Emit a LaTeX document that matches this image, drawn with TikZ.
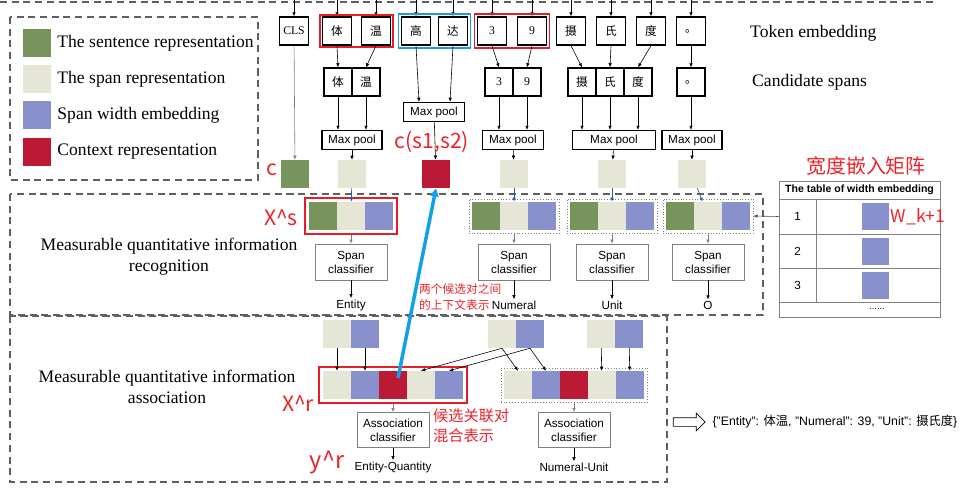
\documentclass[tikz,border=0pt]{standalone}
\usepackage{fontspec}
\setmainfont{Liberation Serif}
\setsansfont{Liberation Sans}
\newfontfamily\cjk{Noto Sans CJK SC}
\usepackage{xcolor}
\definecolor{sentgreen}{RGB}{118, 148, 92}
\definecolor{spanbeige}{RGB}{230, 230, 215}
\definecolor{widthblue}{RGB}{137, 145, 204}
\definecolor{ctxred}{RGB}{187, 25, 54}
\definecolor{boxred}{RGB}{228, 30, 38}
\definecolor{labred}{RGB}{238, 34, 42}
\definecolor{tokblue}{RGB}{30, 155, 224}
\definecolor{ctxline}{RGB}{20, 160, 230}
\definecolor{framegray}{RGB}{95, 95, 95}
\definecolor{arrowblue}{RGB}{40, 90, 160}
\usetikzlibrary{arrows.meta, positioning, shapes.arrows, fit, calc}

\begin{document}
\begin{tikzpicture}[x=0.03cm, y=-0.03cm,
  >={Latex[length=3.5pt, width=3pt]},
  arr/.style={->, line width=0.5pt},
  grayarr/.style={->, line width=0.5pt, draw=gray},
  bluearr/.style={->, line width=0.6pt, draw=arrowblue},
  tokbox/.style={draw, line width=1.1pt, minimum width=0.87cm, minimum height=0.84cm, inner sep=0pt,
        font=\fontsize{10}{12}\selectfont},
  spanbox/.style={tokbox, minimum width=0.84cm},
  poolbox/.style={draw, line width=1.1pt, minimum height=0.57cm, inner sep=1pt,
        font=\sffamily\fontsize{10}{12}\selectfont},
  cell/.style={minimum size=0.84cm, inner sep=0pt},
  clsbox/.style={draw=gray, line width=0.6pt, minimum width=2.16cm, minimum height=1.08cm, align=center,
        font=\sffamily\fontsize{10}{12}\selectfont},
  outlab/.style={font=\sffamily\fontsize{10}{12}\selectfont, inner sep=1pt},
  redlab/.style={text=labred, inner sep=0pt, font=\cjk\fontsize{18}{21}\selectfont},
  dashframe/.style={draw=framegray, line width=1.6pt, dash pattern=on 6pt off 4pt},
  legtext/.style={font=\fontsize{15}{18}\selectfont, inner sep=0pt},
  secttext/.style={align=center, font=\fontsize{15}{18}\selectfont},
  tabcell/.style={draw=gray, line width=0.6pt, inner sep=0pt, font=\sffamily\fontsize{10}{12}\selectfont},
]
\useasboundingbox (0,0) rectangle (963,490);
\coordinate (topline) at (0,0);

\draw[dashframe] (0,2) -- (933,2);
\draw[dashframe] (10,17) rectangle (258,180);
\draw[dashframe] (10,194) rectangle (763,315);
\draw[dashframe] (10,316) rectangle (667,482);

% legend
\foreach \c/\t/\y in {sentgreen/The sentence representation/43, spanbeige/The span representation/79,
    widthblue/Span width embedding/115, ctxred/Context representation/152} {
  \node[cell, fill=\c] (leg-\y) at (37,\y) {};
  \node[legtext, right=0.18cm of leg-\y] (legt-\y) {\t};
}

% tokens and candidate spans
\foreach \n/\t/\x in {cls/CLS/294, ti/{\cjk 体}/337, wen/{\cjk 温}/376, gao/{\cjk 高}/416, da/{\cjk 达}/453,
    t3/3/492, t9/9/532, she/{\cjk 摄}/571, shi/{\cjk 氏}/611, du/{\cjk 度}/651, ju/{\cjk 。}/691} {
  \node[tokbox] (\n) at (\x,31) {\t};
  \draw[arr] (\n.north |- topline) -- (\n.north);
}
\node[fit=(ti)(wen), draw=boxred, line width=1.6pt, inner sep=1.5pt] (redti) {};
\node[fit=(gao)(da), draw=tokblue, line width=1.6pt, inner sep=2pt] (bluegao) {};
\node[fit=(t3)(t9), draw=boxred, line width=1.6pt, inner sep=2pt] (redt3) {};

\foreach \n/\t/\x in {sti/{\cjk 体}/338, swen/{\cjk 温}/366, s3/3/499, s9/9/527,
    sshe/{\cjk 摄}/582, sshi/{\cjk 氏}/610, sdu/{\cjk 度}/638, sju/{\cjk 。}/691}
  \node[spanbox] (\n) at (\x,82) {\t};
\foreach \a/\b in {ti/sti, wen/swen, t3/s3, t9/s9, she/sshe, shi/sshi, du/sdu, ju/sju}
  \draw[arr] (\a.south) -- (\b.north);

\node[poolbox, minimum width=1.8cm] (mp1) at (352,140) {Max pool};
\node[poolbox, minimum width=1.83cm] (mp2) at (434,112) {Max pool};
\node[poolbox, minimum width=1.83cm] (mp3) at (513,140) {Max pool};
\node[poolbox, minimum width=2.49cm] (mp4) at (614,140) {Max pool};
\node[poolbox, minimum width=1.8cm] (mp5) at (692,140) {Max pool};
\foreach \s/\m in {sti/mp1, swen/mp1, s3/mp3, s9/mp3, sshe/mp4, sshi/mp4, sdu/mp4, sju/mp5}
  \draw[arr] (\s.south) -- (\s.south |- \m.north);
\draw[arr] (gao.south) -- ($(mp2.north)+(-15,0)$);
\draw[arr] (da.south) -- ($(mp2.north)+(16,0)$);

% representations
\node[cell, fill=sentgreen] (rc) at (295,174) {};
\node[cell, fill=spanbeige] (r1) at (352,174) {};
\node[cell, fill=ctxred] (rctx) at (436,174) {};
\node[cell, fill=spanbeige] (r2) at (514,174) {};
\node[cell, fill=spanbeige] (r3) at (612,174) {};
\node[cell, fill=spanbeige] (r4) at (692,174) {};
\draw[grayarr] (cls) -- (rc);
\foreach \m/\r in {mp1/r1, mp2/rctx, mp3/r2, mp4/r3, mp5/r4}
  \draw[arr] (\m) -- (\r);

% recognition
\foreach \g/\x/\lab in {e/351/Entity, n/514/Numeral, u/612/Unit, o/708/O} {
  \node[cell, fill=sentgreen] (sent-\g) at (\x-28,216) {};
  \node[cell, fill=spanbeige] (span-\g) at (\x,216) {};
  \node[cell, fill=widthblue] (wid-\g) at (\x+28,216) {};
  \node[clsbox] (cls-\g) at (\x,262) {Span\\classifier};
  \node[outlab] (out-\g) at (\x,305) {\lab};
  \draw[arr] (cls-\g) -- (out-\g);
}
\node[fit=(sent-e)(wid-e), draw=boxred, line width=1.6pt, inner sep=3.5pt] (grp-e) {};
\foreach \g in {n, u, o}
  \node[fit=(sent-\g)(wid-\g), draw=gray, dotted, inner sep=2.5pt] (grp-\g) {};
\foreach \g in {e, n, u, o}
  \draw[grayarr] (grp-\g) -- (cls-\g);
\draw[bluearr] (r1) -- (span-e);
\draw[bluearr] (r2) -- (span-n);
\draw[bluearr] (r3) -- (span-u);
\draw[bluearr] (r4) -- (span-o);

% width table
\node[tabcell, minimum width=4.83cm, minimum height=0.54cm, font=\sffamily\bfseries\fontsize{9}{11}\selectfont]
  (thead) at (859.5,190) {The table of width embedding};
\foreach \k/\y/\h in {1/216.5/1.05cm, 2/251/1.02cm, 3/285/1.02cm} {
  \node[tabcell, minimum width=1.11cm, minimum height=\h] (num\k) at (797.5,\y) {\k};
  \node[tabcell, minimum width=3.72cm, minimum height=\h] (vec\k) at (878,\y) {};
  \node[cell, fill=widthblue, minimum size=0.81cm] (wv\k) at (875.5,\y) {};
}
\node[tabcell, minimum width=4.83cm, minimum height=0.45cm] (trow4) at (859.5,309.5) {};
\node[font=\sffamily\fontsize{8}{10}\selectfont, inner sep=0pt] (tdots) at (877,309) {......};
\draw[arr, draw=gray!60!black] (num1.west) -- (grp-o.east);

% association
\foreach \p/\x in {pe/337, pn/502, pu/601} {
  \node[cell, fill=spanbeige] (\p-s) at (\x,334) {};
  \node[cell, fill=widthblue] (\p-w) at (\x+28,334) {};
}
\foreach \c/\x in {ca/337, cb/518} {
  \node[cell, fill=spanbeige] (\c1) at (\x,385) {};
  \node[cell, fill=widthblue] (\c2) at (\x+28,385) {};
  \node[cell, fill=ctxred] (\c3) at (\x+56,385) {};
  \node[cell, fill=spanbeige] (\c4) at (\x+84,385) {};
  \node[cell, fill=widthblue] (\c5) at (\x+112,385) {};
}
\node[fit=(ca1)(ca5), draw=boxred, line width=1.6pt, inner sep=3.4pt] (grp-ca) {};
\node[fit=(cb1)(cb5), draw=gray, dotted, inner sep=2.5pt] (grp-cb) {};
\draw[arr] (pe-s) -- (ca1);
\draw[arr] (pe-w) -- (ca2);
\draw[arr] (pn-s.south) -- (ca4.north);
\draw[arr] (pn-w.south) -- (ca5.north);
\draw[arr] (pn-s.south) -- (cb1.north);
\draw[arr] (pn-w.south) -- (cb2.north);
\draw[arr] (pu-s) -- (cb4);
\draw[arr] (pu-w) -- (cb5);

\node[clsbox, minimum height=1.05cm] (ac1) at (393,430) {Association\\classifier};
\node[clsbox, minimum height=1.05cm] (ac2) at (574,430) {Association\\classifier};
\node[outlab] (out-eq) at (393,467) {Entity-Quantity};
\node[outlab] (out-nu) at (574,467) {Numeral-Unit};
\draw[grayarr] (grp-ca) -- (ac1);
\draw[grayarr] (grp-cb) -- (ac2);
\draw[arr] (ac1) -- (out-eq);
\draw[arr] (ac2) -- (out-nu);

\draw[-{Triangle[length=7pt, width=7pt]}, line width=3pt, ctxline] ($(ca3.center)+(5,-7)$) -- (rctx.south);

\node[single arrow, draw, line width=0.6pt, minimum height=0.96cm, inner xsep=0pt, inner ysep=0.12cm,
      single arrow head extend=0.135cm] (outarr) at (687,422) {};
\node[right=0.2cm of outarr, inner sep=0pt, font=\sffamily\fontsize{10.5}{12}\selectfont] (json)
  {\{"Entity": {\cjk 体温}, "Numeral": 39, "Unit": {\cjk 摄氏度}\}};

% texts
\node[secttext] (rectext) at (169,257) {Measurable quantitative information\\recognition};
\node[secttext] (asstext) at (167,387) {Measurable quantitative information\\association};
\node[legtext, anchor=west] (tokemb) at (750,33) {Token embedding};
\node[legtext, anchor=west] (candsp) at (752,82) {Candidate spans};

\node[redlab] (lc) at (272,170) {c};
\node[redlab] (lcs) at (432,142) {c(s1,s2)};
\node[redlab] (lxs) at (281,218) {X\textasciicircum s};
\node[redlab] (lxr) at (298,404) {X\textasciicircum r};
\node[redlab, font=\cjk\fontsize{20}{22}\selectfont] (lyr) at (327,462) {y\textasciicircum r};
\node[redlab, font=\cjk\fontsize{17}{20}\selectfont] (lmat) at (866,166) {宽度嵌入矩阵};
\node[redlab, font=\cjk\fontsize{15}{18}\selectfont] (lwk) at (918,217) {W\_k+1};
\node[redlab, anchor=west, align=left, font=\cjk\fontsize{13}{17}\selectfont] (lmix) at (433,426)
  {候选关联对\\混合表示};
\node[redlab, anchor=west, align=left, font=\cjk\fontsize{10}{13.5}\selectfont] (lctx) at (419,297)
  {两个候选对之间\\的上下文表示};
\end{tikzpicture}
\end{document}
